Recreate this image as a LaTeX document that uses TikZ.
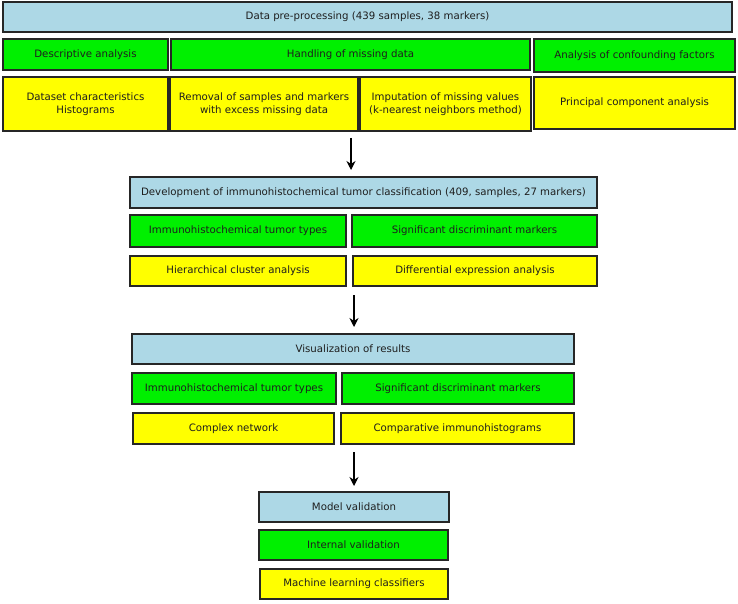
\documentclass[tikz,border=0pt]{standalone}
\usepackage{fontspec}
\setmainfont{DejaVu Sans}
\usetikzlibrary{arrows.meta}
\definecolor{bbl}{RGB}{173,216,230}
\definecolor{bgr}{RGB}{0,240,0}
\definecolor{byl}{RGB}{255,255,0}
\definecolor{txt}{RGB}{30,30,30}
\tikzset{
  box/.style={draw=black!85, line width=1.3pt, inner sep=0pt, outer sep=0pt, align=center,
    font=\fontsize{10.2}{13}\selectfont, text=txt},
  bluebox/.style={box, fill=bbl},
  greenbox/.style={box, fill=bgr},
  yellowbox/.style={box, fill=byl},
  flow/.style={-{Stealth[length=9pt,width=9pt]}, line width=1.1pt, black},
}
% \bx{style}{name}{x1}{y1}{x2}{y2}{text}
\newcommand{\bx}[7]{\node[#1, minimum width={#5-#3}, minimum height={#6-#4}] (#2) at ({(#3+#5)/2},{(#4+#6)/2}) {#7};}
\begin{document}
\begin{tikzpicture}[x=1pt,y=-1pt]
\useasboundingbox (0,0) rectangle (738,604);
% stage 1
\bx{bluebox}{pre}{3}{2}{732}{32}{Data pre-processing (439 samples, 38 markers)}
\bx{greenbox}{desc}{3}{39}{168}{70}{Descriptive analysis}
\bx{greenbox}{miss}{171}{39}{530}{70}{Handling of missing data}
\bx{greenbox}{conf}{534}{39}{735}{72}{Analysis of confounding factors}
\bx{yellowbox}{hist}{3}{77}{168}{131}{Dataset characteristics\\Histograms}
\bx{yellowbox}{remo}{170}{77}{358}{131}{Removal of samples and markers\\with excess missing data}
\bx{yellowbox}{impu}{360}{77}{531}{131}{Imputation of missing values\\(k-nearest neighbors method)}
\bx{yellowbox}{pca}{534}{77}{735}{129}{Principal component analysis}
% stage 2
\bx{bluebox}{dev}{130}{177}{597}{208}{Development of immunohistochemical tumor classification (409, samples, 27 markers)}
\bx{greenbox}{types}{130}{215}{346}{247}{Immunohistochemical tumor types}
\bx{greenbox}{sig}{352}{215}{597}{247}{Significant discriminant markers}
\bx{yellowbox}{hca}{130}{256}{346}{286}{Hierarchical cluster analysis}
\bx{yellowbox}{dea}{353}{256}{597}{286}{Differential expression analysis}
% stage 3
\bx{bluebox}{vis}{132}{334}{574}{364}{Visualization of results}
\bx{greenbox}{types2}{132}{373}{336}{404}{Immunohistochemical tumor types}
\bx{greenbox}{sig2}{342}{373}{574}{404}{Significant discriminant markers}
\bx{yellowbox}{net}{133}{413}{334}{444}{Complex network}
\bx{yellowbox}{cih}{341}{413}{574}{444}{Comparative immunohistograms}
% stage 4
\bx{bluebox}{mv}{259}{492}{449}{522}{Model validation}
\bx{greenbox}{iv}{259}{530}{448}{560}{Internal validation}
\bx{yellowbox}{ml}{260}{569}{448}{599}{Machine learning classifiers}
% arrows
\coordinate (a1s) at (351,138); \coordinate (a1e) at (351,170);
\coordinate (a2s) at (354,295); \coordinate (a2e) at (354,327);
\coordinate (a3s) at (354,452); \coordinate (a3e) at (354,486);
\draw[flow] (a1s) -- (a1e);
\draw[flow] (a2s) -- (a2e);
\draw[flow] (a3s) -- (a3e);
\end{tikzpicture}
\end{document}
